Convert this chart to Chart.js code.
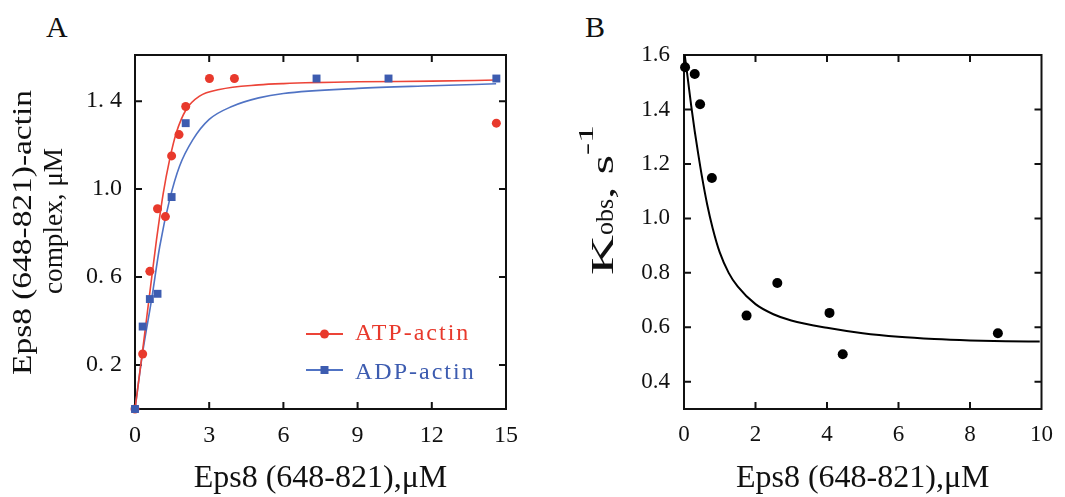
<!DOCTYPE html>
<html lang="en">
<head>
<meta charset="UTF-8">
<title>Eps8 (648-821) binding to actin</title>
<style>
  body { margin: 0; background: #fff; width: 1065px; height: 497px; position: relative; overflow: hidden; font-family: "Liberation Serif", serif; }
  .panel { position: absolute; top: 0; height: 497px; }
  #boxA { left: 0; width: 530px; }
  #boxB { left: 540px; width: 525px; }
  .letter { position: absolute; top: 12px; font-size: 30px; line-height: 30px; color: #111; }
</style>
</head>
<body>
<div class="letter" style="left:46px">A</div>
<div class="letter" style="left:585px">B</div>
<div class="panel" id="boxA"><canvas id="chartA"></canvas></div>
<div class="panel" id="boxB"><canvas id="chartB"></canvas></div>

<script src="https://cdn.jsdelivr.net/npm/chart.js"></script>
<script>
// ---- panel A: complex formation ----
const atpX = [0, 0.31, 0.60, 0.91, 1.23, 1.48, 1.78, 2.05, 3.01, 4.02, 14.61];
const atpY = [0, 0.25, 0.626, 0.911, 0.875, 1.151, 1.248, 1.376, 1.503, 1.503, 1.30];
const adpX = [0, 0.31, 0.60, 0.91, 1.48, 2.05, 7.34, 10.25, 14.61];
const adpY = [0, 0.375, 0.50, 0.524, 0.964, 1.30, 1.503, 1.503, 1.503];
// fitted curves
const atpFitX = [0, 0.3, 0.6, 0.87, 1.14, 1.4, 1.67, 2.07, 2.61, 3.41, 5, 6, 9, 12, 14.6];
const atpFitY = [0, 0.26, 0.53, 0.77, 0.98, 1.134, 1.256, 1.362, 1.423, 1.453, 1.474, 1.480, 1.488, 1.491, 1.496];
const adpFitX = [0, 0.3, 0.67, 1.0, 1.4, 1.8, 2.34, 3.0, 3.94, 5, 6, 9, 12, 14.6];
const adpFitY = [0, 0.25, 0.497, 0.739, 0.952, 1.104, 1.225, 1.317, 1.377, 1.415, 1.435, 1.458, 1.470, 1.479];
const aXTicks = [0, 3, 6, 9, 12, 15];
const aYTicks = [0.2, 0.6, 1.0, 1.4];
const aYLabels = ['0. 2', '0. 6', '1.0', '1. 4'];

// ---- panel B: k_obs ----
const kX = [0.03, 0.30, 0.45, 0.78, 1.75, 2.61, 4.07, 4.44, 8.78];
const kY = [1.555, 1.530, 1.419, 1.148, 0.643, 0.763, 0.653, 0.501, 0.578];
const kFitX = [0.02, 0.1, 0.2, 0.3, 0.4, 0.5, 0.65, 0.8, 1.0, 1.25, 1.5, 2.0, 2.5, 3.0, 4.0, 5.0, 6.0, 7.0, 8.0, 9.0, 9.95];
const kFitY = [1.60, 1.52, 1.415, 1.32, 1.235, 1.155, 1.05, 0.965, 0.875, 0.80, 0.75, 0.685, 0.648, 0.625, 0.598, 0.578, 0.565, 0.557, 0.552, 0.549, 0.548];
const bXTicks = [0, 2, 4, 6, 8, 10];
const bYTicks = [0.4, 0.6, 0.8, 1.0, 1.2, 1.4, 1.6];

const RED = '#e8392c', RED_LINE = '#ec4438';
const BLUE = '#3d5cb0', BLUE_LINE = '#5073c4';
const FONT = 'Liberation Serif';

Chart.defaults.font.family = FONT;
Chart.defaults.color = '#111';

const pts = (xs, ys) => xs.map((x, i) => ({ x: x, y: ys[i] }));

// box with inward ticks on all four sides
const framePlugin = {
  id: 'frame',
  beforeDatasetsDraw(chart) {
    const { ctx, chartArea: a, scales: { x, y } } = chart;
    ctx.save();
    ctx.strokeStyle = '#111';
    ctx.lineWidth = 2;
    ctx.strokeRect(a.left, a.top, a.right - a.left, a.bottom - a.top);
    ctx.beginPath();
    x.ticks.forEach(t => {
      const p = x.getPixelForValue(t.value);
      if (p <= a.left + 1 || p >= a.right - 1) return;
      ctx.moveTo(p, a.bottom); ctx.lineTo(p, a.bottom - 7);
      ctx.moveTo(p, a.top); ctx.lineTo(p, a.top + 7);
    });
    y.ticks.forEach(t => {
      const p = y.getPixelForValue(t.value);
      if (p <= a.top + 1 || p >= a.bottom - 1) return;
      ctx.moveTo(a.left, p); ctx.lineTo(a.left + 7, p);
      ctx.moveTo(a.right, p); ctx.lineTo(a.right - 7, p);
    });
    ctx.stroke();
    ctx.restore();
  }
};

// rotated text going upward from y0; every part is stretched to its own length
function drawVertical(ctx, parts, baseX, y0) {
  ctx.save();
  ctx.translate(baseX, y0);
  ctx.rotate(-Math.PI / 2);
  ctx.fillStyle = '#111';
  ctx.textBaseline = 'alphabetic';
  ctx.textAlign = 'left';
  let off = 0;
  parts.forEach(p => {
    ctx.font = p.size + 'px "' + FONT + '"';
    const w = ctx.measureText(p.text).width;
    ctx.save();
    ctx.translate(off, p.shift || 0);
    ctx.scale(p.len / w, 1);
    ctx.fillText(p.text, 0, 0);
    ctx.restore();
    off += p.len;
  });
  ctx.restore();
}

const yTitleA = {
  id: 'yTitleA',
  afterDraw(chart) {
    const ctx = chart.ctx;
    drawVertical(ctx, [{ text: 'Eps8 (648-821)-actin', size: 28, len: 285 }], 31, 375);
    drawVertical(ctx, [{ text: 'complex, μM', size: 28, len: 146 }], 62, 294);
  }
};

const legendA = {
  id: 'legendA',
  afterDraw(chart) {
    const ctx = chart.ctx;
    const items = [
      { ds: chart.data.datasets[1], lineY: 334, textY: 340, lineColor: RED_LINE },
      { ds: chart.data.datasets[0], lineY: 370, textY: 379, lineColor: BLUE_LINE }
    ];
    ctx.save();
    items.forEach(it => {
      ctx.strokeStyle = it.lineColor;
      ctx.lineWidth = 1.8;
      ctx.beginPath();
      ctx.moveTo(306, it.lineY); ctx.lineTo(343, it.lineY);
      ctx.stroke();
      ctx.fillStyle = it.ds.backgroundColor;
      ctx.beginPath();
      if (it.ds.pointStyle === 'rect') {
        ctx.rect(324.5 - 4, it.lineY - 4, 8, 8);
      } else {
        ctx.arc(324.5, it.lineY, 4.5, 0, Math.PI * 2);
      }
      ctx.fill();
      ctx.font = '24px "' + FONT + '"';
      ctx.letterSpacing = '2px';
      ctx.textBaseline = 'alphabetic';
      ctx.fillText(it.ds.label, 355, it.textY);
    });
    ctx.restore();
  }
};

const yTitleB = {
  id: 'yTitleB',
  afterDraw(chart) {
    // canvas B starts at page x = 540
    drawVertical(chart.ctx, [
      { text: 'K', size: 31, len: 40 },
      { text: 'obs', size: 25, len: 36 },
      { text: ', s', size: 31, len: 44 },
      { text: '-1', size: 20, len: 30, shift: -20 }
    ], 613 - 540, 275);
  }
};

const tickFont = size => ({ family: FONT, size: size });

new Chart(document.getElementById('chartA'), {
  type: 'scatter',
  data: {
    datasets: [
      { label: 'ADP-actin', data: pts(adpX, adpY), pointStyle: 'rect', pointRadius: 5.6, backgroundColor: BLUE, borderColor: BLUE, borderWidth: 0, clip: false },
      { label: 'ATP-actin', data: pts(atpX, atpY), pointStyle: 'circle', pointRadius: 4.5, backgroundColor: RED, borderColor: RED, borderWidth: 0, clip: false },
      { label: 'ATP fit', data: pts(atpFitX, atpFitY), showLine: true, pointRadius: 0, borderColor: RED_LINE, borderWidth: 1.6, cubicInterpolationMode: 'monotone' },
      { label: 'ADP fit', data: pts(adpFitX, adpFitY), showLine: true, pointRadius: 0, borderColor: BLUE_LINE, borderWidth: 1.6, cubicInterpolationMode: 'monotone' }
    ]
  },
  options: {
    responsive: true,
    maintainAspectRatio: false,
    animation: false,
    layout: { padding: { left: 0, top: 55, right: 21, bottom: 0 } },
    plugins: { legend: { display: false }, tooltip: { enabled: false } },
    scales: {
      x: {
        type: 'linear', min: 0, max: 15,
        afterBuildTicks: s => { s.ticks = aXTicks.map(v => ({ value: v })); },
        afterFit: s => { s.height = 88; },
        grid: { display: false, drawTicks: false },
        border: { display: false },
        ticks: { font: tickFont(24), padding: 12, maxRotation: 0, autoSkip: false, color: '#111' },
        title: { display: true, text: 'Eps8 (648-821),μM', color: '#111', font: { family: FONT, size: 32, lineHeight: 1 }, padding: { top: 0, bottom: 2 } }
      },
      y: {
        type: 'linear', min: 0, max: 1.61,
        afterBuildTicks: s => { s.ticks = aYTicks.map(v => ({ value: v })); },
        afterFit: s => { s.width = 135; },
        grid: { display: false, drawTicks: false },
        border: { display: false },
        ticks: { font: tickFont(24), padding: 13, color: '#111', callback: (v, i) => aYLabels[i] }
      }
    }
  },
  plugins: [framePlugin, yTitleA, legendA]
});

new Chart(document.getElementById('chartB'), {
  type: 'scatter',
  data: {
    datasets: [
      { label: 'kobs', data: pts(kX, kY), pointStyle: 'circle', pointRadius: 5, backgroundColor: '#000', borderWidth: 0, clip: false },
      { label: 'fit', data: pts(kFitX, kFitY), showLine: true, pointRadius: 0, borderColor: '#000', borderWidth: 2, cubicInterpolationMode: 'monotone' }
    ]
  },
  options: {
    responsive: true,
    maintainAspectRatio: false,
    animation: false,
    layout: { padding: { left: 0, top: 55, right: 12, bottom: 0 } },
    plugins: { legend: { display: false }, tooltip: { enabled: false } },
    scales: {
      x: {
        type: 'linear', min: 0, max: 10,
        afterBuildTicks: s => { s.ticks = bXTicks.map(v => ({ value: v })); },
        afterFit: s => { s.height = 88; },
        grid: { display: false, drawTicks: false },
        border: { display: false },
        ticks: { font: tickFont(23), padding: 12, maxRotation: 0, autoSkip: false, color: '#111' },
        title: { display: true, text: 'Eps8 (648-821),μM', color: '#111', font: { family: FONT, size: 32, lineHeight: 1 }, padding: { top: 0, bottom: 2 } }
      },
      y: {
        type: 'linear', min: 0.3, max: 1.6,
        afterBuildTicks: s => { s.ticks = bYTicks.map(v => ({ value: v })); },
        afterFit: s => { s.width = 144; },
        grid: { display: false, drawTicks: false },
        border: { display: false },
        ticks: { font: tickFont(23), padding: 14, color: '#111', callback: v => v.toFixed(1) }
      }
    }
  },
  plugins: [framePlugin, yTitleB]
});
</script>
</body>
</html>
